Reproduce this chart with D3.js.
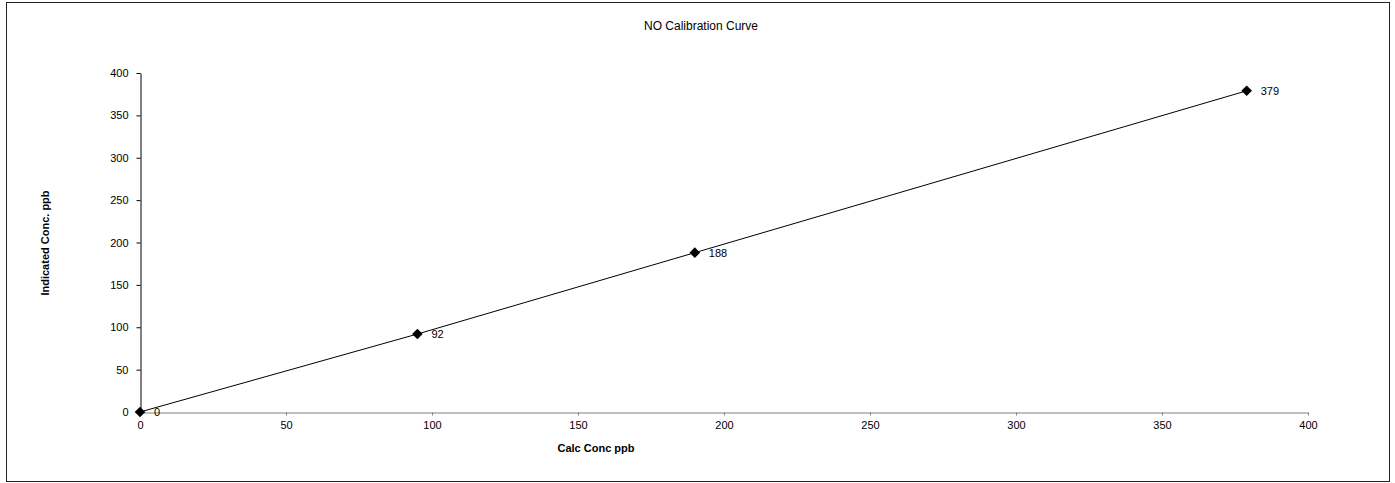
<!DOCTYPE html>
<html>
<head>
<meta charset="utf-8">
<script src="https://cdn.jsdelivr.net/npm/d3@7"></script>
<style>
  html, body { margin: 0; padding: 0; background: #fff; }
  svg { display: block; font-family: Arial, "Liberation Sans", sans-serif; }
</style>
</head>
<body>
<svg id="chart" width="1395" height="483"></svg>
<script>
// NO calibration: calculated vs indicated concentration (ppb)
const calcConc = [0, 95, 190, 379];
const indicatedConc = [0, 92, 188, 379];
const xTicks = [0, 50, 100, 150, 200, 250, 300, 350, 400];
const yTicks = [0, 50, 100, 150, 200, 250, 300, 350, 400];
const chartTitle = "NO Calibration Curve";
const xTitle = "Calc Conc ppb";
const yTitle = "Indicated Conc. ppb";

const svg = d3.select("#chart");

// outer chart frame
svg.append("rect")
  .attr("x", 6.5).attr("y", 2.5)
  .attr("width", 1383).attr("height", 479)
  .attr("fill", "#fff").attr("stroke", "#222").attr("stroke-width", 1);

const plot = { left: 140, right: 1308, top: 73, bottom: 412 };

const x = d3.scaleLinear().domain([0, 400]).range([plot.left, plot.right]);
const y = d3.scaleLinear().domain([0, 400]).range([plot.bottom, plot.top]);

// x axis
const xAxis = svg.append("g")
  .attr("transform", `translate(0,${plot.bottom + 0.5})`)
  .call(d3.axisBottom(x).tickValues(xTicks).tickSize(3).tickPadding(6).tickSizeOuter(0));
xAxis.select(".domain").attr("stroke", "#808080");
xAxis.selectAll(".tick line").attr("stroke", "#808080");
xAxis.selectAll("text").attr("font-size", 11).attr("fill", "#000")
  .attr("font-family", "Arial, 'Liberation Sans', sans-serif");

// y axis
const yAxis = svg.append("g")
  .attr("transform", `translate(${plot.left + 0.5},0)`)
  .call(d3.axisLeft(y).tickValues(yTicks).tickSize(4).tickPadding(8).tickSizeOuter(0));
yAxis.select(".domain").attr("stroke", "#000");
yAxis.selectAll(".tick line").attr("stroke", "#000");
yAxis.selectAll("text").attr("font-size", 11).attr("fill", "#000")
  .attr("font-family", "Arial, 'Liberation Sans', sans-serif");

// titles
svg.append("text")
  .attr("x", 701).attr("y", 30)
  .attr("text-anchor", "middle").attr("font-size", 12)
  .text(chartTitle);

svg.append("text")
  .attr("x", 596).attr("y", 452)
  .attr("text-anchor", "middle").attr("font-size", 11).attr("font-weight", "bold")
  .text(xTitle);

svg.append("text")
  .attr("transform", `translate(49,243) rotate(-90)`)
  .attr("text-anchor", "middle").attr("font-size", 11).attr("font-weight", "bold")
  .text(yTitle);

const pts = calcConc.map((c, i) => ({ c, v: indicatedConc[i] }));

// series line
svg.append("path")
  .datum(pts)
  .attr("fill", "none").attr("stroke", "#000").attr("stroke-width", 1)
  .attr("d", d3.line().x(d => x(d.c)).y(d => y(d.v)));

// diamond markers
svg.selectAll(".marker")
  .data(pts)
  .join("path")
  .attr("class", "marker")
  .attr("transform", d => `translate(${x(d.c)},${y(d.v)})`)
  .attr("d", d3.symbol().type(d3.symbolDiamond2).size(72))
  .attr("fill", "#000");

// value labels
svg.selectAll(".vlabel")
  .data(pts)
  .join("text")
  .attr("class", "vlabel")
  .attr("x", d => x(d.c) + 14)
  .attr("y", d => y(d.v) + 4)
  .attr("font-size", 11)
  .attr("fill", "#000")
  .text(d => d.v);
</script>
</body>
</html>
